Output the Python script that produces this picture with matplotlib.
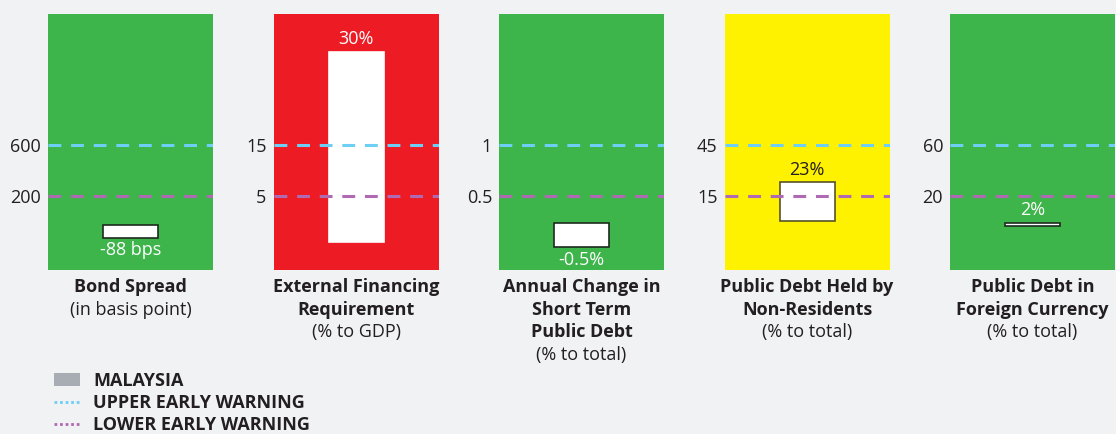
import numpy as np
import matplotlib
matplotlib.use("Agg")
import matplotlib.pyplot as plt
from matplotlib.lines import Line2D
from matplotlib.patches import Patch

plt.rcParams['font.family'] = ['Open Sans', 'DejaVu Sans']

# indicator data
titles = ["Bond Spread", "External Financing\nRequirement",
          "Annual Change in\nShort Term\nPublic Debt",
          "Public Debt Held by\nNon-Residents", "Public Debt in\nForeign Currency"]
units = ["(in basis point)", "(% to GDP)", "(% to total)", "(% to total)", "(% to total)"]
malaysia = [-88, 30, -0.5, 23, 2]
value_labels = ["-88 bps", "30%", "-0.5%", "23%", "2%"]
upper_warning = [600, 15, 1, 45, 60]
lower_warning = [200, 5, 0.5, 15, 20]
tick_labels = [["200", "600"], ["5", "15"], ["0.5", "1"], ["15", "45"], ["20", "60"]]
status = ["green", "red", "green", "yellow", "green"]

# each panel has its own (non-uniform) scale: value knots -> axis fraction
scale_vals = [[-311, 0, 200, 600, 1629],
              [-3.03, 0, 5, 15, 30, 36.1],
              [-0.98, -0.5, 0, 0.5, 1, 2.29],
              [-28.6, 15, 45, 122.2],
              [-29.4, 0, 20, 60, 162.9]]
scale_frac = [[0, 0.176, 0.289, 0.488, 1],
              [0, 0.109, 0.289, 0.488, 0.852, 1],
              [0, 0.0898, 0.184, 0.289, 0.488, 1],
              [0, 0.289, 0.488, 1],
              [0, 0.172, 0.289, 0.488, 1]]

status_colors = {"green": "#3db54b", "red": "#ed1c24", "yellow": "#fff200"}
box_edges = {"green": "#1e2a1e", "red": "white", "yellow": "#55532a"}
upper_col = "#6dcff6"
lower_col = "#b06ab3"
text_col = "#231f20"
bg = "#f1f2f4"
fs = 13

fig = plt.figure(figsize=(11.16, 4.34), dpi=100, facecolor=bg)
W, H = 1116, 434


def make_scale(vals, frac):
    v = np.asarray(vals, float)
    f = np.asarray(frac, float)
    fwd = lambda x: np.interp(x, v, f)
    inv = lambda y: np.interp(y, f, v)
    return fwd, inv


for i in range(5):
    left = 48 + i * 225.5
    ax = fig.add_axes([left / W, 1 - 270 / H, 165 / W, 256 / H])
    ax.set_facecolor(status_colors[status[i]])
    for s in ax.spines.values():
        s.set_visible(False)
    ax.set_yscale("function", functions=make_scale(scale_vals[i], scale_frac[i]))
    ax.set_ylim(scale_vals[i][0], scale_vals[i][-1])
    ax.set_xlim(0, 3)
    ax.set_xticks([])

    ax.bar(1.5, malaysia[i], width=1, bottom=0, color="white",
           edgecolor=box_edges[status[i]], lw=1.2, zorder=2)

    # warning thresholds sit on top of the box
    ax.axhline(upper_warning[i], color=upper_col, lw=2.2, ls=(0, (4.2, 3.2)), zorder=3)
    ax.axhline(lower_warning[i], color=lower_col, lw=2.2, ls=(0, (4.2, 3.2)), zorder=3)

    dark = status[i] == "yellow"
    off = 9 if malaysia[i] >= 0 else -9
    ax.annotate(value_labels[i], (1.5, malaysia[i]), xytext=(0, off),
                textcoords="offset points", ha="center", va="center",
                fontsize=fs, color=text_col if dark else "white", zorder=4)

    ax.set_yticks([lower_warning[i], upper_warning[i]])
    ax.set_yticklabels(tick_labels[i])
    ax.yaxis.set_minor_locator(matplotlib.ticker.NullLocator())
    ax.tick_params(axis="y", length=0, pad=5, labelsize=fs, labelcolor=text_col)

    # title block under the panel
    lines = titles[i].split("\n")
    for k, ln in enumerate(lines + [units[i]]):
        ax.annotate(ln, (0.5, 0), xycoords="axes fraction",
                    xytext=(0, -(17 + 22.7 * k) * 0.72), textcoords="offset points",
                    ha="center", va="center", fontsize=fs, color=text_col,
                    fontweight="bold" if k < len(lines) else "normal")

handles = [Patch(facecolor="#a7adb2", edgecolor="none"),
           Line2D([], [], color=upper_col, lw=2, ls=(0, (1, 1))),
           Line2D([], [], color=lower_col, lw=2, ls=(0, (1, 1)))]
leg = fig.legend(handles, ["MALAYSIA", "UPPER EARLY WARNING", "LOWER EARLY WARNING"],
                 loc="upper left", bbox_to_anchor=(54 / W, 1 - 372 / H),
                 frameon=False, handlelength=1.45, handletextpad=0.72,
                 labelspacing=0.22, borderpad=0, borderaxespad=0,
                 prop={"size": fs, "weight": "bold"})
for t in leg.get_texts():
    t.set_color(text_col)

fig.savefig("out.png", dpi=100, facecolor=bg)
